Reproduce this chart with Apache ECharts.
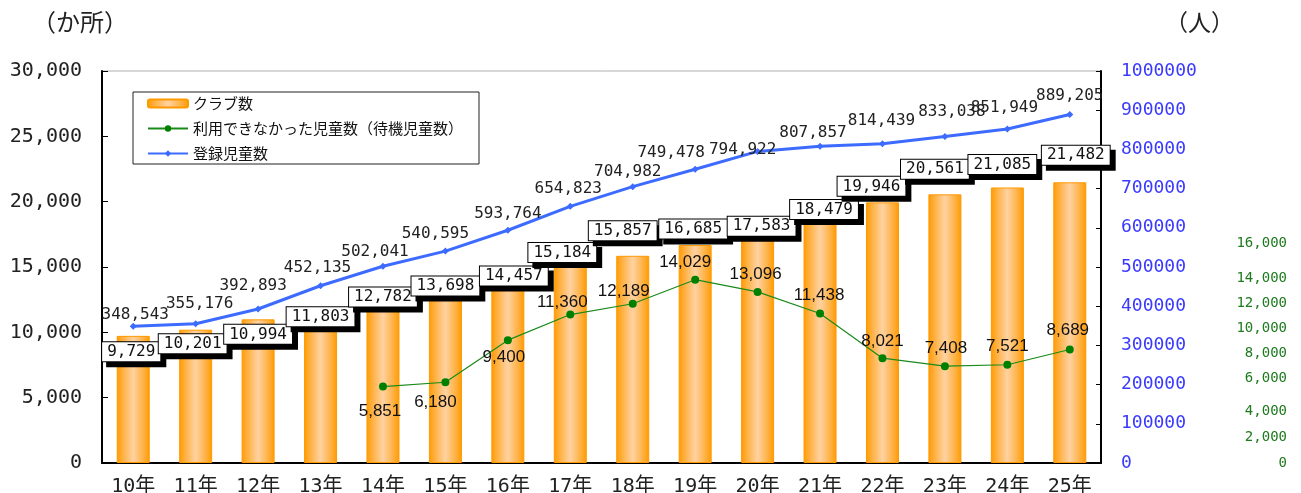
<!DOCTYPE html>
<html>
<head>
<meta charset="utf-8">
<script src="https://cdn.jsdelivr.net/npm/echarts@6/dist/echarts.min.js"></script>
<style>
html,body{margin:0;padding:0;background:#fff;}
#main{width:1301px;height:493px;}
</style>
</head>
<body>
<div id="main"></div>
<script>
// ---- data ----
var categories = ['10年','11年','12年','13年','14年','15年','16年','17年','18年','19年','20年','21年','22年','23年','24年','25年'];
var clubs = [9729,10201,10994,11803,12782,13698,14457,15184,15857,16685,17583,18479,19946,20561,21085,21482];
var waiting = [null,null,null,null,5851,6180,9400,11360,12189,14029,13096,11438,8021,7408,7521,8689];
var registered = [348543,355176,392893,452135,502041,540595,593764,654823,704982,749478,794922,807857,814439,833038,851949,889205];
// the reference's green tick labels and where they sit (in units of the 0–30,000 left scale)
var greenTickLabels = ['0','2,000','4,000','6,000','8,000','10,000','12,000','14,000','16,000'];
var greenTickPos = [0,1972,3936,6499,8417,10335,12253,14118,16780];

// ---- label placement tweaks (style only) ----
var barLabelOffsets = [[-2,16],[-3,14],[0,15],[0,8],[0,1],[0,2],[6,2],[-8,-12],[-10,-25],[-2,-16],[4,-7],[4,-12],[-11,-16],[-10,-25],[-5,-23],[6,-27]];
var blueLabelOffsets = [[2,-12],[4,-20],[-5,-23],[-3,-18],[-8,-14],[-10,-17],[0,-16],[-2,-17],[-5,-15],[-24,-16],[-15,-2],[-7,-13],[-1,-23],[7,-25],[-3,-21],[0,-19]];
var greenLabelOffsets = [null,null,null,null,[-3,25],[-10,20],[-4,17],[-8,-12],[-9,-12],[-10,-17],[-2,-18],[-1,-18],[0,-17],[1,-18],[0,-18],[-2,-19]];

function fmt(v){ return Number(v).toLocaleString('en-US'); }

var MONO = "'DejaVu Sans Mono', 'Noto Sans CJK JP', monospace";
var CJK = "'Noto Sans CJK JP', 'DejaVu Sans', sans-serif";

var chart = echarts.init(document.getElementById('main'), null, {renderer:'canvas'});

var option = {
  animation: false,
  backgroundColor: '#fff',
  title: [
    {text:'（か所）', left: 27, top: 5, textStyle:{fontSize:24, fontWeight:'normal', color:'#222', fontFamily: CJK}},
    {text:'（人）', left: 1160, top: 6, textStyle:{fontSize:23, fontWeight:'normal', color:'#222', fontFamily: CJK}}
  ],
  legend: {
    orient: 'vertical',
    left: 133, top: 92,
    padding: [3, 16, 2, 14],
    itemGap: 8,
    itemWidth: 40, itemHeight: 8,
    borderColor: '#222', borderWidth: 1,
    backgroundColor: '#fff',
    textStyle: {fontSize: 15, color: '#111', fontFamily: CJK, lineHeight: 17},
    data: ['クラブ数','利用できなかった児童数（待機児童数）','登録児童数']
  },
  grid: {left: 102, right: 200, top: 71, bottom: 30, outerBoundsMode: 'none', containLabel: false,
         show: true, borderColor: '#b0b0b0', borderWidth: 1, backgroundColor: 'transparent'},
  xAxis: {
    type: 'category',
    data: categories,
    boundaryGap: true,
    axisLine: {lineStyle: {color: '#000', width: 2}},
    axisTick: {inside: true, length: 5, lineStyle: {color: '#000'}},
    axisLabel: {fontSize: 20, color: '#222', margin: 14, fontFamily: MONO, interval: 0}
  },
  yAxis: [
    {
      type: 'value', min: 0, max: 30000, interval: 5000, position: 'left',
      axisLine: {show: true, lineStyle: {color: '#000', width: 2}},
      axisTick: {show: true, inside: true, length: 6, lineStyle: {color: '#000'}},
      splitLine: {show: false},
      axisLabel: {fontSize: 20, color: '#222', margin: 20, fontFamily: MONO, formatter: function(v){return fmt(v);}}
    },
    {
      type: 'value', min: 0, max: 1000000, interval: 100000, position: 'right',
      axisLine: {show: true, lineStyle: {color: '#000', width: 2}},
      axisTick: {show: true, inside: true, length: 5, lineStyle: {color: '#000'}},
      splitLine: {show: false},
      axisLabel: {fontSize: 18, color: '#3a3aff', margin: 20, fontFamily: MONO, formatter: function(v){ return String(v); }}
    },
    {
      type: 'value', min: 0, max: 30000, position: 'right', offset: 0,
      axisLine: {show: false}, axisTick: {show: false}, splitLine: {show: false},
      axisLabel: {
        show: true, fontSize: 14, color: '#1e7a1e', margin: 186, align: 'right', fontFamily: MONO,
        customValues: greenTickPos,
        formatter: function(v){ var i = greenTickPos.indexOf(v); return i >= 0 ? greenTickLabels[i] : ''; }
      }
    }
  ],
  series: [
    {
      name: 'クラブ数',
      type: 'bar',
      yAxisIndex: 0,
      barWidth: 33,
      z: 2,
      itemStyle: {
        color: new echarts.graphic.LinearGradient(0,0,1,0,[
          {offset:0, color:'#ff9a00'},
          {offset:0.18, color:'#ffb040'},
          {offset:0.5, color:'#ffd2a2'},
          {offset:0.82, color:'#ffb040'},
          {offset:1, color:'#ff9a00'}
        ]),
        borderColor: '#ff9900', borderWidth: 1
      },
      label: {
        show: true,
        position: ['50%', 0],
        align: 'center', verticalAlign: 'middle',
        fontSize: 16, color: '#111', fontFamily: MONO,
        backgroundColor: '#fff', borderColor: '#000', borderWidth: 1,
        padding: [2, 5, 1, 5],
        shadowColor: '#000', shadowBlur: 0, shadowOffsetX: 5, shadowOffsetY: 5,
        formatter: function(p){ return fmt(p.value); }
      },
      data: clubs.map(function(v,i){ return {value: v, label: {offset: barLabelOffsets[i]}}; })
    },
    {
      name: '利用できなかった児童数（待機児童数）',
      type: 'line',
      yAxisIndex: 2,
      z: 4,
      symbol: 'circle', symbolSize: 8,
      lineStyle: {color: '#1a8a1a', width: 1.2},
      itemStyle: {color: '#008000'},
      label: {
        show: true, position: 'inside',
        fontSize: 17, color: '#111', fontFamily: "'Liberation Sans', Arial, sans-serif",
        formatter: function(p){ return fmt(p.value); }
      },
      data: waiting.map(function(v,i){ return v == null ? '-' : {value: v, label: {offset: greenLabelOffsets[i]}}; })
    },
    {
      name: '登録児童数',
      type: 'line',
      yAxisIndex: 1,
      z: 3,
      symbol: 'diamond', symbolSize: 7,
      lineStyle: {color: '#3d6bff', width: 3},
      itemStyle: {color: '#3d6bff'},
      label: {
        show: true, position: 'inside',
        fontSize: 16, color: '#222', fontFamily: MONO,
        formatter: function(p){ return fmt(p.value); }
      },
      data: registered.map(function(v,i){ return {value: v, label: {offset: blueLabelOffsets[i]}}; })
    }
  ]
};
chart.setOption(option);
</script>
</body>
</html>
